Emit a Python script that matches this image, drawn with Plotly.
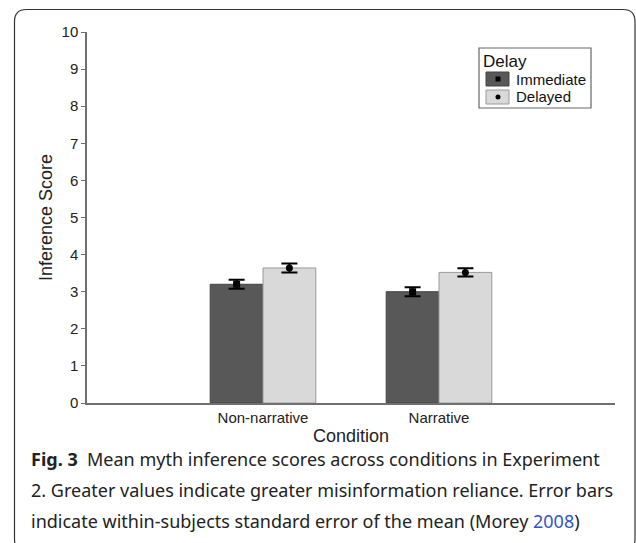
import plotly.graph_objects as go

conditions = ["Non-narrative", "Narrative"]
delay_groups = ["Immediate", "Delayed"]
immediate_means = [3.20, 3.00]
immediate_se = [0.12, 0.12]
delayed_means = [3.64, 3.52]
delayed_se = [0.12, 0.11]
y_ticks = list(range(0, 11))

W, H = 636, 543
L, R, T, B = 87, 21, 32, 140
PW, PH = W - L - R, H - T - B

def px(x):
    return (x - L) / PW

def py(y):
    return (H - B - y) / PH

fig = go.Figure()
xpos = list(range(len(conditions)))
off = 0.15
bw = 0.3
series = [
    (delay_groups[0], immediate_means, immediate_se, -off, "#585858", "#444444", "square"),
    (delay_groups[1], delayed_means, delayed_se, off, "#d9d9d9", "#9a9a9a", "circle"),
]
for name, means, se, o, fill, edge, sym in series:
    xs = [x + o for x in xpos]
    fig.add_trace(go.Bar(x=xs, y=means, width=bw, name=name, marker=dict(color=fill, line=dict(color=edge, width=1)),
                         showlegend=False))
    fig.add_trace(go.Scatter(x=xs, y=means, mode="markers", showlegend=False,
                             marker=dict(symbol=sym, size=7, color="black"),
                             error_y=dict(type="data", array=se, color="black", thickness=2, width=8)))

fig.update_layout(
    width=W, height=H, margin=dict(l=L, r=R, t=T, b=B, pad=0),
    paper_bgcolor="white", plot_bgcolor="white",
    font=dict(family="Liberation Sans, Arial", color="#222"),
    xaxis=dict(range=[-1, 2], tickvals=xpos, ticktext=conditions, showline=True, linecolor="#707070", linewidth=1.5,
               ticks="", showgrid=False, zeroline=False, tickfont=dict(size=15, color="#222"),
               title=dict(text="Condition", font=dict(size=18, color="#222"), standoff=5)),
    yaxis=dict(range=[0, 10], tickvals=y_ticks, showline=True, linecolor="#707070", linewidth=1.5,
               ticks="outside", ticklen=4, tickcolor="#707070", showgrid=False, zeroline=False,
               tickfont=dict(size=15, color="#222"),
               title=dict(text="Inference Score", font=dict(size=18, color="#222"), standoff=4)),
    showlegend=False,
)

shapes = []
# card border (rounded rectangle)
x0, y0, x1, y1, r = 14.5, 9.5, 635, 551, 12
path = (f"M {px(x0)},{py(y0 + r)} Q {px(x0)},{py(y0)} {px(x0 + r)},{py(y0)} "
        f"L {px(x1 - r)},{py(y0)} Q {px(x1)},{py(y0)} {px(x1)},{py(y0 + r)} "
        f"L {px(x1)},{py(y1 - r)} Q {px(x1)},{py(y1)} {px(x1 - r)},{py(y1)} "
        f"L {px(x0 + r)},{py(y1)} Q {px(x0)},{py(y1)} {px(x0)},{py(y1 - r)} Z")
shapes.append(dict(type="path", xref="paper", yref="paper", path=path, line=dict(color="#333", width=1.2)))
# legend box
shapes.append(dict(type="rect", xref="paper", yref="paper", x0=px(479), x1=px(591), y0=py(48), y1=py(108),
                   line=dict(color="#666", width=1.2), fillcolor="white"))
# legend swatches
shapes.append(dict(type="rect", xref="paper", yref="paper", x0=px(486), x1=px(509), y0=py(72), y1=py(86),
                   line=dict(color="#444", width=1), fillcolor="#585858"))
shapes.append(dict(type="rect", xref="paper", yref="paper", x0=px(486), x1=px(509), y0=py(90), y1=py(104),
                   line=dict(color="#9a9a9a", width=1), fillcolor="#d9d9d9"))
shapes.append(dict(type="rect", xref="paper", yref="paper", x0=px(495.5), x1=px(500.5), y0=py(76.5), y1=py(81.5),
                   line=dict(width=0), fillcolor="black"))
shapes.append(dict(type="circle", xref="paper", yref="paper", x0=px(495.5), x1=px(500.5), y0=py(94.5), y1=py(99.5),
                   line=dict(width=0), fillcolor="black"))
fig.update_layout(shapes=shapes)

ann = []
ann.append(dict(xref="paper", yref="paper", x=px(481), y=py(61), text="Delay", showarrow=False,
                xanchor="left", yanchor="middle", font=dict(size=17, color="#111")))
ann.append(dict(xref="paper", yref="paper", x=px(514), y=py(79.5), text=delay_groups[0], showarrow=False,
                xanchor="left", yanchor="middle", font=dict(size=15, color="#111")))
ann.append(dict(xref="paper", yref="paper", x=px(514), y=py(97), text=delay_groups[1], showarrow=False,
                xanchor="left", yanchor="middle", font=dict(size=15, color="#111")))

cap_font = dict(family="Noto Sans, Open Sans", size=18, color="#222")
caption = [
    "<b>Fig. 3</b>  Mean myth inference scores across conditions in Experiment",
    "2. Greater values indicate greater misinformation reliance. Error bars",
    "indicate within-subjects standard error of the mean (Morey <span style='color:#3355cc'>2008</span>)",
]
for i, line in enumerate(caption):
    ann.append(dict(xref="paper", yref="paper", x=px(29), y=py(459 + i * 31), text=line, showarrow=False,
                    xanchor="left", yanchor="middle", font=cap_font))
fig.update_layout(annotations=ann)

fig.write_html("out.html", config={"displayModeBar": False},
               post_script="document.body.style.margin='0';")
